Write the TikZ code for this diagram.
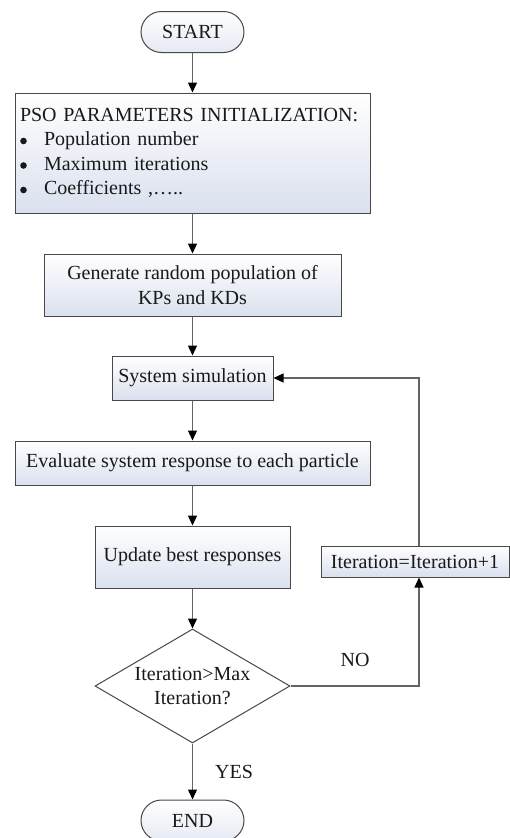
\documentclass[tikz,border=0pt]{standalone}
\usepackage{fontspec}
\setmainfont{Liberation Serif}
\usetikzlibrary{shapes.geometric,shapes.misc,arrows.meta}
\definecolor{boxfill}{RGB}{218,224,238}
\definecolor{edgecol}{RGB}{72,72,72}
\definecolor{lncol}{RGB}{100,100,100}
\definecolor{ink}{RGB}{25,25,25}
\begin{document}
\begin{tikzpicture}[x=1pt,y=-1pt,
  font=\fontsize{20pt}{24.5pt}\selectfont, text=ink,
  proc/.style={draw=edgecol, line width=1pt, top color=white, bottom color=boxfill, inner sep=4pt, align=center},
  term/.style={rounded rectangle, draw=edgecol, line width=1pt, top color=white, bottom color=boxfill!70, minimum width=103pt, minimum height=41pt, inner sep=0pt},
  decision/.style={diamond, draw=edgecol, line width=1pt, fill=white, minimum width=195pt, minimum height=114pt, inner sep=0pt, shape aspect=1.71, align=center},
  conn/.style={draw=lncol, line width=1.2pt, -{Triangle[length=10pt,width=9pt,color=black]}},
  bulletdot/.style={fill=ink}]
\useasboundingbox (0,0) rectangle (510,838);
\clip (0,0) rectangle (510,838);

\node[term] (start) at (192.5,32) {START};
\node[proc, minimum width=355pt, minimum height=120pt, text width=345pt, align=left, inner sep=5pt] (pso) at (192.5,153)
  {PSO PARAMETERS INITIALIZATION:\\
   \hspace*{24pt}Population number\\
   \hspace*{24pt}Maximum iterations\\
   \hspace*{24pt}Coefficients ,\ldots..};
\fill[bulletdot] (23.5,141) circle (3.3pt);
\fill[bulletdot] (23.5,165.5) circle (3.3pt);
\fill[bulletdot] (23.5,190) circle (3.3pt);
\node[proc, minimum width=297pt, minimum height=62pt] (gen) at (192.5,285) {Generate random population of\\KPs and KDs};
\node[proc, minimum width=161pt, minimum height=44pt] (sim) at (192.5,378) {System simulation};
\node[proc, minimum width=355pt, minimum height=44pt] (eval) at (192.5,463) {Evaluate system response to each particle};
\node[proc, minimum width=195pt, minimum height=62pt] (upd) at (192.5,557) {Update best responses};
\node[decision] (dia) at (192.5,686) {Iteration>Max\\Iteration?};
\node[proc, minimum width=188pt, minimum height=31pt, inner sep=2pt] (iter) at (415,561.5) {Iteration=Iteration+1};
\node[term] (end) at (192.5,820.5) {END};
\node (no) at (355,660) {NO};
\node (yes) at (234,772) {YES};

\coordinate (loopx) at (419,0);
\draw[conn] (start.south) -- (pso.north);
\draw[conn] (pso.south) -- (gen.north);
\draw[conn] (gen.south) -- (sim.north);
\draw[conn] (sim.south) -- (eval.north);
\draw[conn] (eval.south) -- (upd.north);
\draw[conn] (upd.south) -- (dia.north);
\draw[conn] (dia.south) -- (end.north);
\draw[conn] (dia.east) -| (iter.south -| loopx);
\draw[conn] (iter.north -| loopx) |- (sim.east);
\end{tikzpicture}
\end{document}
